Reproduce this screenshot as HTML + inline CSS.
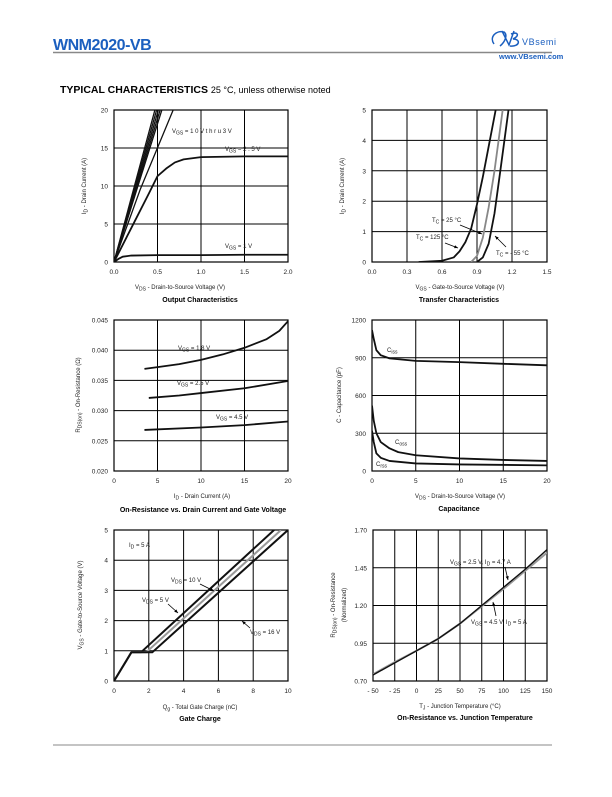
<!DOCTYPE html>
<html><head><meta charset="utf-8"><style>
body{margin:0;background:#fff;width:612px;height:792px;overflow:hidden;font-family:"Liberation Sans",sans-serif}
svg text{font-family:"Liberation Sans",sans-serif}
</style></head><body>
<svg id="pg" width="612" height="792" viewBox="0 0 612 792" xmlns="http://www.w3.org/2000/svg">
<text x="53" y="50" font-size="16" font-weight="bold" fill="#1b5fbf" letter-spacing="-0.5">WNM2020-VB</text>
<line x1="53" y1="52.5" x2="552" y2="52.5" stroke="#888" stroke-width="1.5"/>
<g>
<path d="M494 44 C489 37 496 30 504 32 C508 35 505 42 500 46 M502 31 L509 45 L514 31 M511 34 C518 31 520 36 513 39 C521 39 520 47 510 46" fill="none" stroke="#1b5fbf" stroke-width="1.5"/>
<text x="522" y="45" font-size="9" fill="#1b5fbf" font-family="Liberation Serif" letter-spacing="0.6">VBsemi</text>
<text x="499" y="59" font-size="7.5" font-weight="bold" fill="#1b5fbf">www.VBsemi.com</text>
</g>
<text x="60" y="93" font-size="10.5" font-weight="bold">TYPICAL CHARACTERISTICS <tspan font-weight="normal" font-size="9">25 °C, unless otherwise noted</tspan></text>
<line x1="53" y1="745" x2="552" y2="745" stroke="#888" stroke-width="1"/>
</svg>
<script>
// ---- Chart 1: Output characteristics ----
const c1X=[0,0.5,1,1.5,2];const c1Y=[0,5,10,15,20];
const c1Vgs1x=[0,0.05,0.1,0.2,0.5,1,1.5,2];const c1Vgs1y=[0,0.4,0.7,0.85,0.9,0.9,0.95,0.95];
const c1Vgs25x=[0,0.2,0.4,0.5,0.6,0.7,0.8,1.0,1.5,2];const c1Vgs25y=[0,4.5,9,11.3,12.3,13.1,13.5,13.8,13.9,13.9];
const c1HiEndX=[0.47,0.49,0.51,0.53,0.55,0.68];
// ---- Chart 2: Transfer ----
const c2X=[0,0.3,0.6,0.9,1.2,1.5];const c2Y=[0,1,2,3,4,5];
const c2T125x=[0.4,0.6,0.7,0.75,0.8,0.85,0.9,0.95,1.0,1.06];const c2T125y=[0,0.04,0.15,0.35,0.65,1.1,1.9,2.8,3.8,5];
const c2T25x=[0.85,0.9,0.95,1.0,1.05,1.12];const c2T25y=[0,0.2,0.8,1.8,3.0,5];
const c2Tm55x=[0.9,0.95,1.0,1.05,1.1,1.17];const c2Tm55y=[0,0.15,0.6,1.6,3.0,5];
// ---- Chart 3: On-resistance vs ID ----
const c3X=[0,5,10,15,20];const c3Y=[0.020,0.025,0.030,0.035,0.040,0.045];
const c3Yl=["0.020","0.025","0.030","0.035","0.040","0.045"];
const c3V18x=[3.5,5,7.5,10,12.5,15,17.5,19,20];const c3V18y=[0.0369,0.0372,0.0377,0.0384,0.0393,0.0404,0.0418,0.0432,0.0448];
const c3V25x=[4,7.5,10,15,20];const c3V25y=[0.0321,0.0325,0.0329,0.0337,0.0349];
const c3V45x=[3.5,10,15,20];const c3V45y=[0.0268,0.0272,0.0276,0.0282];
// ---- Chart 4: Capacitance ----
const c4X=[0,5,10,15,20];const c4Y=[0,300,600,900,1200];
const c4Cissx=[0,0.2,0.5,1,2,5,10,15,20];const c4Cissy=[1120,1050,960,920,895,875,865,852,840];
const c4Cossx=[0,0.2,0.5,1,2,3,5,10,15,20];const c4Cossy=[520,400,300,230,180,150,125,100,88,80];
const c4Crssx=[0,0.2,0.5,1,2,5,10,20];const c4Crssy=[320,230,140,105,80,60,52,45];
// ---- Chart 5: Gate charge ----
const c5X=[0,2,4,6,8,10];const c5Y=[0,1,2,3,4,5];
const c5V5x=[0,1,1.55,9.2];const c5V5y=[0,0.95,0.95,5];
const c5V10x=[0,1,1.85,9.6];const c5V10y=[0,0.95,0.95,5];
const c5V16x=[0,1,2.2,10];const c5V16y=[0,0.95,0.95,5];
// ---- Chart 6: On-resistance vs TJ ----
const c6X=[-50,-25,0,25,50,75,100,125,150];const c6Y=[0.70,0.95,1.20,1.45,1.70];
const c6Xl=["- 50","- 25","0","25","50","75","100","125","150"];
const c6V25x=[-50,-25,0,25,50,75,100,125,150];const c6V25y=[0.74,0.82,0.9,0.98,1.08,1.2,1.32,1.44,1.57];
const c6V45x=[-50,-25,0,25,50,75,100,125,150];const c6V45y=[0.745,0.825,0.9,0.98,1.08,1.195,1.31,1.43,1.55];

const NS="http://www.w3.org/2000/svg";const pg=document.getElementById('pg');
function mk(t,a,p){const e=document.createElementNS(NS,t);for(const k in a)e.setAttribute(k,a[k]);(p||pg).appendChild(e);return e;}
function chart(name,L,R,T,B,xt,yt,xl,yl){
  const g=mk('g',{});
  
  
  const cid='clip-'+name;const cp=mk('clipPath',{id:cid},g);mk('rect',{x:L,y:T,width:R-L,height:B-T},cp);
  const x0=xt[0],x1=xt[xt.length-1],y0=yt[0],y1=yt[yt.length-1];
  const sx=v=>L+(v-x0)/(x1-x0)*(R-L), sy=v=>B-(v-y0)/(y1-y0)*(B-T);
  xt.forEach((v,i)=>{const l=mk('line',{x1:sx(v),x2:sx(v),y1:T,y2:B,stroke:'#000','stroke-width':1},g);
    
    
    const t=mk('text',{x:sx(v),y:B+12,'font-size':6.5,'text-anchor':'middle',fill:'#222'},g);t.textContent=xl?xl[i]:(Number.isInteger(x1)&&Number.isInteger(xt[1])?v:v.toFixed(1));
    
    });
  yt.forEach((v,i)=>{const l=mk('line',{x1:L,x2:R,y1:sy(v),y2:sy(v),stroke:'#000','stroke-width':1},g);
    
    
    const t=mk('text',{x:L-6,y:sy(v)+2.5,'font-size':6.5,'text-anchor':'end',fill:'#222'},g);t.textContent=yl?yl[i]:v;
    
    });
  mk('rect',{x:L,y:T,width:R-L,height:B-T,fill:'none',stroke:'#000','stroke-width':1.2},g);
  return {g,sx,sy,cid};
}
function series(c,name,xs,ys,col,w){
  const d=xs.map((x,i)=>(i?'L':'M')+c.sx(x).toFixed(2)+' '+c.sy(ys[i]).toFixed(2)).join(' ');
  const p=mk('path',{d,fill:'none',stroke:col||'#111','stroke-width':w||1.8,'clip-path':'url(#'+c.cid+')','stroke-linejoin':'round'},c.g);
  
  
  return p;
}
function txt(name,x,y,html,size,opt){const t=mk('text',Object.assign({x,y,'font-size':size||6.5,fill:'#222'},opt||{}));t.innerHTML=html;
  
  return t;}
function arrow(name,x1,y1,x2,y2){const l=mk('line',{x1,y1,x2,y2,stroke:'#000','stroke-width':0.8});
  
  
  const a=Math.atan2(y2-y1,x2-x1),s=4;
  const p=mk('polygon',{points:`${x2},${y2} ${x2-s*Math.cos(a-0.4)},${y2-s*Math.sin(a-0.4)} ${x2-s*Math.cos(a+0.4)},${y2-s*Math.sin(a+0.4)}`,fill:'#000'});
  
  }
const sub=s=>`<tspan font-size="5" dy="1.5">${s}</tspan><tspan dy="-1.5"> </tspan>`;

// Chart 1
let c=chart('output-characteristics-chart',114,288,110,262,c1X,c1Y);
series(c,'vgs-1v-curve',c1Vgs1x,c1Vgs1y);
series(c,'vgs-2.5v-curve',c1Vgs25x,c1Vgs25y);
c1HiEndX.forEach((xe,i)=>{series(c,'vgs-high-curve',i==5?[0,0.3,xe]:[0,xe],i==5?[0,9.5,20]:[0,20],'#111',1.3);});
txt('vgs-10v-3v-label',172,133,'V'+sub('GS')+'= 1 0 V t h r u 3 V',6);
txt('vgs-2.5v-label',225,151,'V'+sub('GS')+'= 2 . 5 V',6);
txt('vgs-1v-label',225,248,'V'+sub('GS')+'= 1 V',6);
txt('c1-x-title',180,289,'V'+sub('DS')+'- Drain-to-Source Voltage (V)',6,{'text-anchor':'middle'});
txt('c1-y-title',0,0,'I'+sub('D')+'- Drain Current (A)',6,{'text-anchor':'middle',transform:'translate(86,186) rotate(-90)'});
txt('c1-title',200,302,'Output Characteristics',7,{'text-anchor':'middle','font-weight':'bold',fill:'#000'});

// Chart 2
c=chart('transfer-characteristics-chart',372,547,110,262,c2X,c2Y);
series(c,'tc-125c-curve',c2T125x,c2T125y);
series(c,'tc-25c-curve',c2T25x,c2T25y,'#888');
series(c,'tc-minus55c-curve',c2Tm55x,c2Tm55y);
txt('tc-25c-label',432,222,'T'+sub('C')+'= 25 °C',6);
txt('tc-125c-label',416,239,'T'+sub('C')+'= 125 °C',6);
txt('tc-minus55c-label',496,255,'T'+sub('C')+'= - 55 °C',6);
arrow('tc-25c-arrow',460,225,482,234);arrow('tc-125c-arrow',445,243,458,248);arrow('tc-minus55c-arrow',506,247,495,236);
txt('c2-x-title',460,289,'V'+sub('GS')+'- Gate-to-Source Voltage (V)',6,{'text-anchor':'middle'});
txt('c2-y-title',0,0,'I'+sub('D')+'- Drain Current (A)',6,{'text-anchor':'middle',transform:'translate(344,186) rotate(-90)'});
txt('c2-title',459,302,'Transfer Characteristics',7,{'text-anchor':'middle','font-weight':'bold',fill:'#000'});

// Chart 3
c=chart('on-resistance-vs-current-chart',114,288,320,471,c3X,c3Y,null,c3Yl);
series(c,'vgs-1.8v-curve',c3V18x,c3V18y);
series(c,'vgs-2.5v-curve',c3V25x,c3V25y);
series(c,'vgs-4.5v-curve',c3V45x,c3V45y);
txt('vgs-1.8v-label',178,350,'V'+sub('GS')+'= 1.8 V',6);
txt('vgs-2.5v-label',177,385,'V'+sub('GS')+'= 2.5 V',6);
txt('vgs-4.5v-label',216,419,'V'+sub('GS')+'= 4.5 V',6);
txt('c3-x-title',202,498,'I'+sub('D')+'- Drain Current (A)',6,{'text-anchor':'middle'});
txt('c3-y-title',0,0,'R'+sub('DS(on)')+'- On-Resistance (Ω)',6,{'text-anchor':'middle',transform:'translate(80,395) rotate(-90)'});
txt('c3-title',203,512,'On-Resistance vs. Drain Current and Gate Voltage',7,{'text-anchor':'middle','font-weight':'bold',fill:'#000'});

// Chart 4
c=chart('capacitance-chart',372,547,320,471,c4X,c4Y);
series(c,'ciss-curve',c4Cissx,c4Cissy);
series(c,'coss-curve',c4Cossx,c4Cossy);
series(c,'crss-curve',c4Crssx,c4Crssy);
txt('ciss-label',387,352,'C'+sub('iss'),6);
txt('coss-label',395,444,'C'+sub('oss'),6);
txt('crss-label',376,466,'C'+sub('rss'),6);
txt('c4-x-title',460,498,'V'+sub('DS')+'- Drain-to-Source Voltage (V)',6,{'text-anchor':'middle'});
txt('c4-y-title',0,0,'C - Capacitance (pF)',6,{'text-anchor':'middle',transform:'translate(341,395) rotate(-90)'});
txt('c4-title',459,511,'Capacitance',7,{'text-anchor':'middle','font-weight':'bold',fill:'#000'});

// Chart 5
c=chart('gate-charge-chart',114,288,530,681,c5X,c5Y);
series(c,'vds-5v-curve',c5V5x,c5V5y,'#111',2);
series(c,'vds-10v-curve',c5V10x,c5V10y,'#999',2);
series(c,'vds-16v-curve',c5V16x,c5V16y,'#111',2);
txt('id-5a-label',129,547,'I'+sub('D')+'= 5 A',6);
txt('vds-10v-label',171,582,'V'+sub('DS')+'= 10 V',6);
txt('vds-5v-label',142,602,'V'+sub('DS')+'= 5 V',6);
txt('vds-16v-label',250,634,'V'+sub('DS')+'= 16 V',6);
arrow('vds-10v-arrow',200,584,214,591);arrow('vds-5v-arrow',168,604,178,613);arrow('vds-16v-arrow',250,628,242,621);
txt('c5-x-title',200,709,'Q'+sub('g')+'- Total Gate Charge (nC)',6,{'text-anchor':'middle'});
txt('c5-y-title',0,0,'V'+sub('GS')+'- Gate-to-Source Voltage (V)',6,{'text-anchor':'middle',transform:'translate(82,605) rotate(-90)'});
txt('c5-title',200,721,'Gate Charge',7,{'text-anchor':'middle','font-weight':'bold',fill:'#000'});

// Chart 6
c=chart('on-resistance-vs-temperature-chart',373,547,530,681,c6X,c6Y,c6Xl,c6Y.map(v=>v.toFixed(2)));
series(c,'vgs-4.5v-id-5a-curve',c6V45x,c6V45y,'#999',2);
series(c,'vgs-2.5v-id-4.7a-curve',c6V25x,c6V25y,'#111',1.4);
txt('vgs-2.5v-label',450,564,'V'+sub('GS')+'= 2.5 V, I'+sub('D')+'= 4.7 A',6);
txt('vgs-4.5v-label',471,624,'V'+sub('GS')+'= 4.5 V, I'+sub('D')+'= 5 A',6);
arrow('vgs-2.5v-arrow',505,567,508,580);arrow('vgs-4.5v-arrow',496,616,493,602);
txt('c6-x-title',460,708,'T'+sub('J')+'- Junction Temperature (°C)',6,{'text-anchor':'middle'});
txt('c6-y-title',0,0,'R'+sub('DS(on)')+'- On-Resistance',6,{'text-anchor':'middle',transform:'translate(335,605) rotate(-90)'});
txt('c6-y-title-2',0,0,'(Normalized)',6,{'text-anchor':'middle',transform:'translate(346,605) rotate(-90)'});
txt('c6-title',465,720,'On-Resistance vs. Junction Temperature',7,{'text-anchor':'middle','font-weight':'bold',fill:'#000'});
</script>
</body></html>
